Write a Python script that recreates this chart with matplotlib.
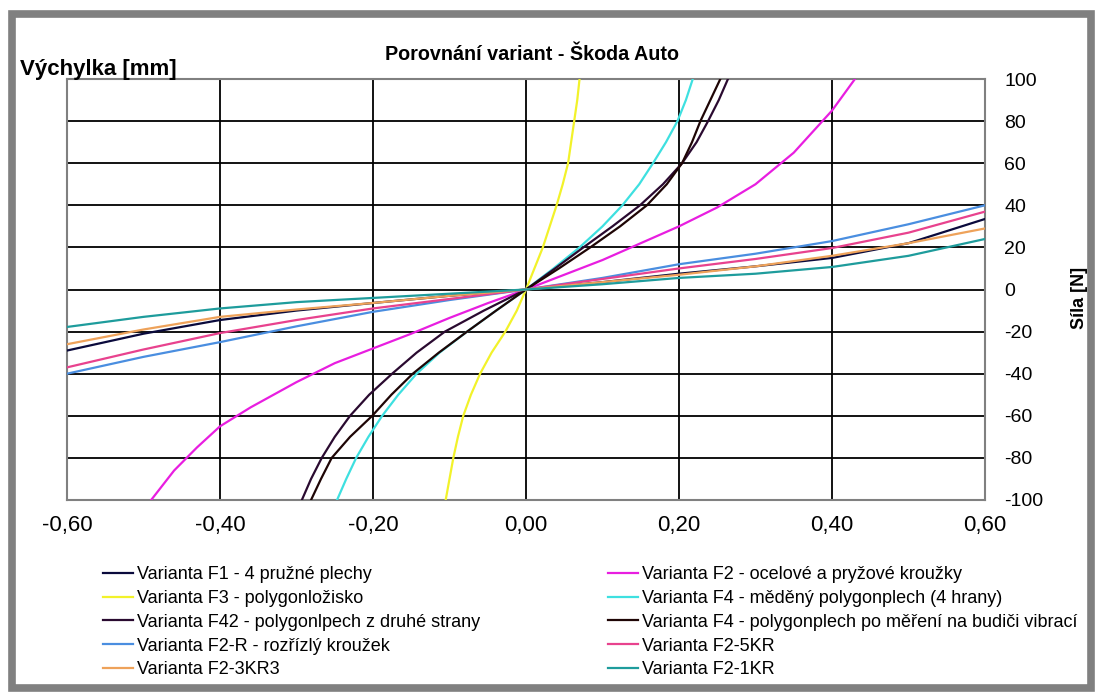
import matplotlib.pyplot as plt
from matplotlib.patches import Rectangle
from matplotlib.ticker import FuncFormatter

plt.rcParams['font.family'] = ['Liberation Sans', 'DejaVu Sans']
plt.rcParams['axes.unicode_minus'] = False

# popisky variant
labels = [
    "Varianta F1 - 4 pružné plechy",
    "Varianta F2 - ocelové a pryžové kroužky",
    "Varianta F3 - polygonložisko",
    "Varianta F4 - měděný polygonplech (4 hrany)",
    "Varianta F42 - polygonlpech z druhé strany",
    "Varianta F4 - polygonplech po měření na budiči vibrací",
    "Varianta F2-R - rozřízlý kroužek",
    "Varianta F2-5KR",
    "Varianta F2-3KR3",
    "Varianta F2-1KR",
]
colors = ["#0a0a3c", "#e81ee0", "#f2f22a", "#3ee0e0", "#2a0a30",
          "#1e0505", "#4a8ee0", "#e8428e", "#eea25a", "#1e9c9c"]

# výchylka [mm] pro měkké varianty
x_soft = [-0.6, -0.5, -0.4, -0.3, -0.2, -0.1, 0.0, 0.1, 0.2, 0.3, 0.4, 0.5, 0.6]
f1 = [-29, -21, -14.5, -10, -6.4, -3, 0, 3.5, 7.5, 11, 15, 22, 33.5]
f2r = [-40, -32, -25, -17.5, -10.6, -5, 0, 5.5, 12, 17, 23, 31, 40]
f2_5kr = [-37, -28.5, -20.7, -14.5, -9, -4.5, 0, 5, 10, 14.5, 19.7, 27, 37]
f2_3kr3 = [-26, -19, -13, -9.5, -6.4, -3, 0, 3.5, 7, 11, 16, 22, 29]
f2_1kr = [-17.8, -13, -9, -6, -4, -2, 0, 2.5, 5.5, 7.5, 10.7, 16, 24]

# varianta F2 (ocelové a pryžové kroužky)
x_f2 = [-0.49, -0.46, -0.43, -0.4, -0.36, -0.3, -0.25, -0.2, -0.15, -0.1, -0.05,
        0.0, 0.05, 0.1, 0.15, 0.2, 0.25, 0.3, 0.35, 0.4, 0.43]
y_f2 = [-100, -86, -75, -65, -56, -44, -35, -28, -21, -13.5, -6.5,
        0, 7, 14, 22, 30, 39, 50, 65, 85, 100]

# tuhé varianty - síla po 10 N, odečtená výchylka
y_levels = [-100, -90, -80, -70, -60, -50, -40, -30, -20, -10, 0,
            10, 20, 30, 40, 50, 60, 70, 80, 90, 100]
x_f3 = [-0.105, -0.1, -0.095, -0.089, -0.082, -0.072, -0.06, -0.045, -0.027, -0.012, 0,
        0.011, 0.022, 0.031, 0.04, 0.048, 0.055, 0.059, 0.063, 0.067, 0.07]
x_f4m = [-0.247, -0.235, -0.222, -0.206, -0.188, -0.167, -0.143, -0.113, -0.077, -0.039, 0,
         0.036, 0.07, 0.1, 0.126, 0.148, 0.166, 0.183, 0.198, 0.209, 0.218]
x_f42 = [-0.293, -0.281, -0.267, -0.25, -0.23, -0.205, -0.175, -0.143, -0.106, -0.055, 0,
         0.038, 0.075, 0.113, 0.149, 0.179, 0.204, 0.223, 0.238, 0.252, 0.264]
x_f4po = [-0.281, -0.268, -0.254, -0.23, -0.201, -0.176, -0.148, -0.114, -0.077, -0.039, 0,
          0.043, 0.084, 0.123, 0.158, 0.184, 0.204, 0.217, 0.228, 0.241, 0.254]

x_ticks = [-0.6, -0.4, -0.2, 0.0, 0.2, 0.4, 0.6]
y_ticks = [-100, -80, -60, -40, -20, 0, 20, 40, 60, 80, 100]

W, H = 1102, 695
fig = plt.figure(figsize=(W / 100, H / 100), dpi=100)
ax = fig.add_axes([67 / W, 1 - 500 / H, (985 - 67) / W, (500 - 79) / H])

series = [
    (x_soft, f1), (x_f2, y_f2), (x_f3, y_levels), (x_f4m, y_levels),
    (x_f42, y_levels), (x_f4po, y_levels), (x_soft, f2r), (x_soft, f2_5kr),
    (x_soft, f2_3kr3), (x_soft, f2_1kr),
]
handles = []
for (xs, ys), lab, c in zip(series, labels, colors):
    h, = ax.plot(xs, ys, color=c, lw=1.6, label=lab, zorder=3)
    handles.append(h)

ax.set_xlim(-0.6, 0.6)
ax.set_ylim(-100, 100)
ax.set_xticks(x_ticks)
ax.set_yticks(y_ticks)
ax.xaxis.set_major_formatter(FuncFormatter(lambda v, p: f"{v:.2f}".replace(".", ",").replace("-0,00", "0,00")))
ax.yaxis.tick_right()
ax.tick_params(length=0)
ax.tick_params(axis='y', pad=14, labelsize=14)
ax.tick_params(axis='x', pad=11, labelsize=16)
ax.grid(True, color='black', lw=1.3, zorder=1)
for s in ax.spines.values():
    s.set_color('#808080')
    s.set_linewidth(1.5)

fig.text(532 / W, 1 - 55 / H, "Porovnání variant - Škoda Auto", ha='center', va='center',
         fontsize=14.2, fontweight='bold')
fig.text(20 / W, 1 - 69 / H, "Výchylka [mm]", ha='left', va='center',
         fontsize=16, fontweight='bold')
fig.text(1080 / W, 1 - 298 / H, "Síla [N]", ha='center', va='center', rotation=90,
         fontsize=13, fontweight='bold')

# legenda ve dvou sloupcích
leg_kw = dict(frameon=False, fontsize=13, handlelength=1.65, handletextpad=0.25,
              labelspacing=0.38, loc='upper left', borderaxespad=0, borderpad=0)
col1 = [0, 2, 4, 6, 8]
col2 = [1, 3, 5, 7, 9]
fig.legend([handles[i] for i in col1], [labels[i] for i in col1],
           bbox_to_anchor=(103 / W, 1 - 566 / H), **leg_kw)
fig.legend([handles[i] for i in col2], [labels[i] for i in col2],
           bbox_to_anchor=(608 / W, 1 - 566 / H), **leg_kw)

# šedý rámeček kolem obrázku
fig.patches.append(Rectangle((11.5 / W, 1 - 688 / H), (1091 - 11.5) / W, (688 - 13.5) / H,
                             transform=fig.transFigure, fill=False,
                             edgecolor='#808080', lw=5.5))

fig.savefig("out.png", dpi=100)
